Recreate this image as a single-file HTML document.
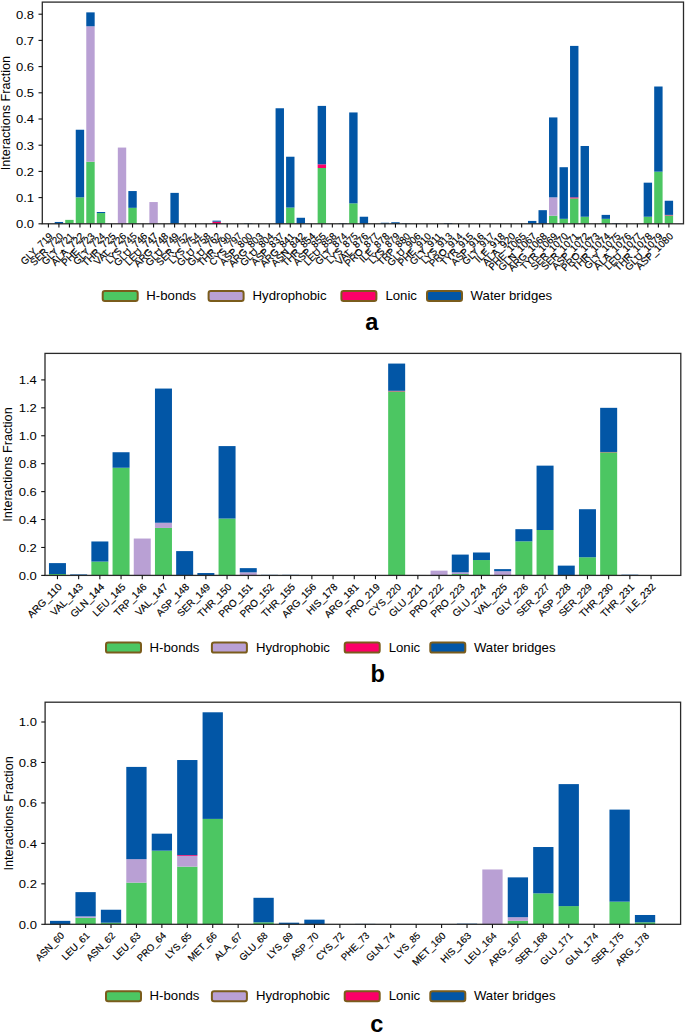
<!DOCTYPE html>
<html><head><meta charset="utf-8"><style>
html,body{margin:0;padding:0;background:#fff;}
body{width:685px;height:1034px;overflow:hidden;}
svg{display:block;font-family:"Liberation Sans",sans-serif;}
</style></head><body>
<svg width="685" height="1034" viewBox="0 0 685 1034" fill="#000">
<rect x="54.72" y="221.97" width="8.40" height="1.83" fill="#0256a6"/>
<rect x="65.23" y="219.87" width="8.40" height="3.93" fill="#4cc662"/>
<rect x="75.75" y="197.34" width="8.40" height="26.46" fill="#4cc662"/>
<rect x="75.75" y="129.74" width="8.40" height="67.60" fill="#0256a6"/>
<rect x="86.27" y="161.71" width="8.40" height="62.09" fill="#4cc662"/>
<rect x="86.27" y="26.25" width="8.40" height="135.45" fill="#b9a0d4"/>
<rect x="86.27" y="12.37" width="8.40" height="13.89" fill="#0256a6"/>
<rect x="96.78" y="213.06" width="8.40" height="10.74" fill="#4cc662"/>
<rect x="96.78" y="212.01" width="8.40" height="1.05" fill="#0256a6"/>
<rect x="117.82" y="147.56" width="8.40" height="76.24" fill="#b9a0d4"/>
<rect x="128.34" y="207.82" width="8.40" height="15.98" fill="#4cc662"/>
<rect x="128.34" y="191.05" width="8.40" height="16.77" fill="#0256a6"/>
<rect x="149.37" y="202.05" width="8.40" height="21.75" fill="#b9a0d4"/>
<rect x="170.40" y="192.88" width="8.40" height="30.92" fill="#0256a6"/>
<rect x="212.47" y="221.70" width="8.40" height="2.10" fill="#fc0068"/>
<rect x="212.47" y="220.66" width="8.40" height="1.05" fill="#0256a6"/>
<rect x="244.02" y="223.28" width="8.40" height="0.52" fill="#0256a6"/>
<rect x="275.57" y="108.26" width="8.40" height="115.54" fill="#0256a6"/>
<rect x="286.09" y="207.56" width="8.40" height="16.24" fill="#4cc662"/>
<rect x="286.09" y="156.73" width="8.40" height="50.83" fill="#0256a6"/>
<rect x="296.61" y="217.77" width="8.40" height="6.03" fill="#0256a6"/>
<rect x="317.64" y="167.99" width="8.40" height="55.81" fill="#4cc662"/>
<rect x="317.64" y="164.33" width="8.40" height="3.67" fill="#fc0068"/>
<rect x="317.64" y="105.90" width="8.40" height="58.43" fill="#0256a6"/>
<rect x="338.68" y="223.28" width="8.40" height="0.52" fill="#0256a6"/>
<rect x="349.19" y="203.36" width="8.40" height="20.44" fill="#4cc662"/>
<rect x="349.19" y="112.45" width="8.40" height="90.91" fill="#0256a6"/>
<rect x="359.71" y="216.73" width="8.40" height="7.07" fill="#0256a6"/>
<rect x="380.74" y="222.75" width="8.40" height="1.05" fill="#0256a6"/>
<rect x="391.26" y="222.23" width="8.40" height="1.57" fill="#0256a6"/>
<rect x="401.78" y="223.28" width="8.40" height="0.52" fill="#0256a6"/>
<rect x="443.85" y="223.01" width="8.40" height="0.79" fill="#0256a6"/>
<rect x="527.98" y="220.92" width="8.40" height="2.88" fill="#0256a6"/>
<rect x="538.50" y="210.18" width="8.40" height="13.62" fill="#0256a6"/>
<rect x="549.02" y="215.68" width="8.40" height="8.12" fill="#4cc662"/>
<rect x="549.02" y="197.34" width="8.40" height="18.34" fill="#b9a0d4"/>
<rect x="549.02" y="117.43" width="8.40" height="79.91" fill="#0256a6"/>
<rect x="559.53" y="218.82" width="8.40" height="4.98" fill="#4cc662"/>
<rect x="559.53" y="167.21" width="8.40" height="51.61" fill="#0256a6"/>
<rect x="570.05" y="198.39" width="8.40" height="25.41" fill="#4cc662"/>
<rect x="570.05" y="197.34" width="8.40" height="1.05" fill="#fc0068"/>
<rect x="570.05" y="45.90" width="8.40" height="151.44" fill="#0256a6"/>
<rect x="580.57" y="216.73" width="8.40" height="7.07" fill="#4cc662"/>
<rect x="580.57" y="145.99" width="8.40" height="70.74" fill="#0256a6"/>
<rect x="601.60" y="218.82" width="8.40" height="4.98" fill="#4cc662"/>
<rect x="601.60" y="214.89" width="8.40" height="3.93" fill="#0256a6"/>
<rect x="612.12" y="223.28" width="8.40" height="0.52" fill="#0256a6"/>
<rect x="643.67" y="216.73" width="8.40" height="7.07" fill="#4cc662"/>
<rect x="643.67" y="182.67" width="8.40" height="34.06" fill="#0256a6"/>
<rect x="654.19" y="171.66" width="8.40" height="52.14" fill="#4cc662"/>
<rect x="654.19" y="86.51" width="8.40" height="85.15" fill="#0256a6"/>
<rect x="664.70" y="215.42" width="8.40" height="8.38" fill="#4cc662"/>
<rect x="664.70" y="214.89" width="8.40" height="0.52" fill="#fc0068"/>
<rect x="664.70" y="200.74" width="8.40" height="14.15" fill="#0256a6"/>
<rect x="42.30" y="2.10" width="641.20" height="221.70" fill="none" stroke="#2a2a2a" stroke-width="1.3"/>
<line x1="38.50" y1="223.80" x2="42.30" y2="223.80" stroke="#111" stroke-width="1.1"/>
<text x="34.10" y="228.10" text-anchor="end" font-size="11.8" textLength="18.13" lengthAdjust="spacingAndGlyphs">0.0</text>
<line x1="38.50" y1="197.60" x2="42.30" y2="197.60" stroke="#111" stroke-width="1.1"/>
<text x="34.10" y="201.90" text-anchor="end" font-size="11.8" textLength="18.13" lengthAdjust="spacingAndGlyphs">0.1</text>
<line x1="38.50" y1="171.40" x2="42.30" y2="171.40" stroke="#111" stroke-width="1.1"/>
<text x="34.10" y="175.70" text-anchor="end" font-size="11.8" textLength="18.13" lengthAdjust="spacingAndGlyphs">0.2</text>
<line x1="38.50" y1="145.20" x2="42.30" y2="145.20" stroke="#111" stroke-width="1.1"/>
<text x="34.10" y="149.50" text-anchor="end" font-size="11.8" textLength="18.13" lengthAdjust="spacingAndGlyphs">0.3</text>
<line x1="38.50" y1="119.00" x2="42.30" y2="119.00" stroke="#111" stroke-width="1.1"/>
<text x="34.10" y="123.30" text-anchor="end" font-size="11.8" textLength="18.13" lengthAdjust="spacingAndGlyphs">0.4</text>
<line x1="38.50" y1="92.80" x2="42.30" y2="92.80" stroke="#111" stroke-width="1.1"/>
<text x="34.10" y="97.10" text-anchor="end" font-size="11.8" textLength="18.13" lengthAdjust="spacingAndGlyphs">0.5</text>
<line x1="38.50" y1="66.60" x2="42.30" y2="66.60" stroke="#111" stroke-width="1.1"/>
<text x="34.10" y="70.90" text-anchor="end" font-size="11.8" textLength="18.13" lengthAdjust="spacingAndGlyphs">0.6</text>
<line x1="38.50" y1="40.40" x2="42.30" y2="40.40" stroke="#111" stroke-width="1.1"/>
<text x="34.10" y="44.70" text-anchor="end" font-size="11.8" textLength="18.13" lengthAdjust="spacingAndGlyphs">0.7</text>
<line x1="38.50" y1="14.20" x2="42.30" y2="14.20" stroke="#111" stroke-width="1.1"/>
<text x="34.10" y="18.50" text-anchor="end" font-size="11.8" textLength="18.13" lengthAdjust="spacingAndGlyphs">0.8</text>
<line x1="48.40" y1="223.80" x2="48.40" y2="227.60" stroke="#111" stroke-width="1.1"/>
<text transform="translate(53.30,236.80) rotate(-45)" text-anchor="end" font-size="10.0" textLength="40.50" lengthAdjust="spacingAndGlyphs" stroke="#000" stroke-width="0.15">GLY_719</text>
<line x1="58.92" y1="223.80" x2="58.92" y2="227.60" stroke="#111" stroke-width="1.1"/>
<text transform="translate(63.82,236.80) rotate(-45)" text-anchor="end" font-size="10.0" textLength="41.95" lengthAdjust="spacingAndGlyphs" stroke="#000" stroke-width="0.15">SER_720</text>
<line x1="69.43" y1="223.80" x2="69.43" y2="227.60" stroke="#111" stroke-width="1.1"/>
<text transform="translate(74.33,236.80) rotate(-45)" text-anchor="end" font-size="10.0" textLength="40.50" lengthAdjust="spacingAndGlyphs" stroke="#000" stroke-width="0.15">GLY_721</text>
<line x1="79.95" y1="223.80" x2="79.95" y2="227.60" stroke="#111" stroke-width="1.1"/>
<text transform="translate(84.85,236.80) rotate(-45)" text-anchor="end" font-size="10.0" textLength="41.83" lengthAdjust="spacingAndGlyphs" stroke="#000" stroke-width="0.15">ALA_722</text>
<line x1="90.47" y1="223.80" x2="90.47" y2="227.60" stroke="#111" stroke-width="1.1"/>
<text transform="translate(95.37,236.80) rotate(-45)" text-anchor="end" font-size="10.0" textLength="42.20" lengthAdjust="spacingAndGlyphs" stroke="#000" stroke-width="0.15">PHE_723</text>
<line x1="100.98" y1="223.80" x2="100.98" y2="227.60" stroke="#111" stroke-width="1.1"/>
<text transform="translate(105.88,236.80) rotate(-45)" text-anchor="end" font-size="10.0" textLength="40.50" lengthAdjust="spacingAndGlyphs" stroke="#000" stroke-width="0.15">GLY_724</text>
<line x1="111.50" y1="223.80" x2="111.50" y2="227.60" stroke="#111" stroke-width="1.1"/>
<text transform="translate(116.40,236.80) rotate(-45)" text-anchor="end" font-size="10.0" textLength="42.88" lengthAdjust="spacingAndGlyphs" stroke="#000" stroke-width="0.15">THR_725</text>
<line x1="122.02" y1="223.80" x2="122.02" y2="227.60" stroke="#111" stroke-width="1.1"/>
<text transform="translate(126.92,236.80) rotate(-45)" text-anchor="end" font-size="10.0" textLength="40.99" lengthAdjust="spacingAndGlyphs" stroke="#000" stroke-width="0.15">VAL_726</text>
<line x1="132.54" y1="223.80" x2="132.54" y2="227.60" stroke="#111" stroke-width="1.1"/>
<text transform="translate(137.44,236.80) rotate(-45)" text-anchor="end" font-size="10.0" textLength="39.16" lengthAdjust="spacingAndGlyphs" stroke="#000" stroke-width="0.15">LYS_745</text>
<line x1="143.05" y1="223.80" x2="143.05" y2="227.60" stroke="#111" stroke-width="1.1"/>
<text transform="translate(147.95,236.80) rotate(-45)" text-anchor="end" font-size="10.0" textLength="42.46" lengthAdjust="spacingAndGlyphs" stroke="#000" stroke-width="0.15">GLU_746</text>
<line x1="153.57" y1="223.80" x2="153.57" y2="227.60" stroke="#111" stroke-width="1.1"/>
<text transform="translate(158.47,236.80) rotate(-45)" text-anchor="end" font-size="10.0" textLength="41.56" lengthAdjust="spacingAndGlyphs" stroke="#000" stroke-width="0.15">LEU_747</text>
<line x1="164.09" y1="223.80" x2="164.09" y2="227.60" stroke="#111" stroke-width="1.1"/>
<text transform="translate(168.99,236.80) rotate(-45)" text-anchor="end" font-size="10.0" textLength="43.80" lengthAdjust="spacingAndGlyphs" stroke="#000" stroke-width="0.15">ARG_748</text>
<line x1="174.60" y1="223.80" x2="174.60" y2="227.60" stroke="#111" stroke-width="1.1"/>
<text transform="translate(179.50,236.80) rotate(-45)" text-anchor="end" font-size="10.0" textLength="42.46" lengthAdjust="spacingAndGlyphs" stroke="#000" stroke-width="0.15">GLU_749</text>
<line x1="185.12" y1="223.80" x2="185.12" y2="227.60" stroke="#111" stroke-width="1.1"/>
<text transform="translate(190.02,236.80) rotate(-45)" text-anchor="end" font-size="10.0" textLength="41.95" lengthAdjust="spacingAndGlyphs" stroke="#000" stroke-width="0.15">SER_752</text>
<line x1="195.64" y1="223.80" x2="195.64" y2="227.60" stroke="#111" stroke-width="1.1"/>
<text transform="translate(200.54,236.80) rotate(-45)" text-anchor="end" font-size="10.0" textLength="39.16" lengthAdjust="spacingAndGlyphs" stroke="#000" stroke-width="0.15">LYS_754</text>
<line x1="206.16" y1="223.80" x2="206.16" y2="227.60" stroke="#111" stroke-width="1.1"/>
<text transform="translate(211.06,236.80) rotate(-45)" text-anchor="end" font-size="10.0" textLength="42.46" lengthAdjust="spacingAndGlyphs" stroke="#000" stroke-width="0.15">GLU_758</text>
<line x1="216.67" y1="223.80" x2="216.67" y2="227.60" stroke="#111" stroke-width="1.1"/>
<text transform="translate(221.57,236.80) rotate(-45)" text-anchor="end" font-size="10.0" textLength="42.46" lengthAdjust="spacingAndGlyphs" stroke="#000" stroke-width="0.15">GLU_762</text>
<line x1="227.19" y1="223.80" x2="227.19" y2="227.60" stroke="#111" stroke-width="1.1"/>
<text transform="translate(232.09,236.80) rotate(-45)" text-anchor="end" font-size="10.0" textLength="42.88" lengthAdjust="spacingAndGlyphs" stroke="#000" stroke-width="0.15">THR_790</text>
<line x1="237.71" y1="223.80" x2="237.71" y2="227.60" stroke="#111" stroke-width="1.1"/>
<text transform="translate(242.61,236.80) rotate(-45)" text-anchor="end" font-size="10.0" textLength="41.62" lengthAdjust="spacingAndGlyphs" stroke="#000" stroke-width="0.15">CYS_797</text>
<line x1="248.22" y1="223.80" x2="248.22" y2="227.60" stroke="#111" stroke-width="1.1"/>
<text transform="translate(253.12,236.80) rotate(-45)" text-anchor="end" font-size="10.0" textLength="41.57" lengthAdjust="spacingAndGlyphs" stroke="#000" stroke-width="0.15">ASP_800</text>
<line x1="258.74" y1="223.80" x2="258.74" y2="227.60" stroke="#111" stroke-width="1.1"/>
<text transform="translate(263.64,236.80) rotate(-45)" text-anchor="end" font-size="10.0" textLength="43.80" lengthAdjust="spacingAndGlyphs" stroke="#000" stroke-width="0.15">ARG_803</text>
<line x1="269.26" y1="223.80" x2="269.26" y2="227.60" stroke="#111" stroke-width="1.1"/>
<text transform="translate(274.16,236.80) rotate(-45)" text-anchor="end" font-size="10.0" textLength="42.46" lengthAdjust="spacingAndGlyphs" stroke="#000" stroke-width="0.15">GLU_804</text>
<line x1="279.77" y1="223.80" x2="279.77" y2="227.60" stroke="#111" stroke-width="1.1"/>
<text transform="translate(284.67,236.80) rotate(-45)" text-anchor="end" font-size="10.0" textLength="41.57" lengthAdjust="spacingAndGlyphs" stroke="#000" stroke-width="0.15">ASP_837</text>
<line x1="290.29" y1="223.80" x2="290.29" y2="227.60" stroke="#111" stroke-width="1.1"/>
<text transform="translate(295.19,236.80) rotate(-45)" text-anchor="end" font-size="10.0" textLength="43.80" lengthAdjust="spacingAndGlyphs" stroke="#000" stroke-width="0.15">ARG_841</text>
<line x1="300.81" y1="223.80" x2="300.81" y2="227.60" stroke="#111" stroke-width="1.1"/>
<text transform="translate(305.71,236.80) rotate(-45)" text-anchor="end" font-size="10.0" textLength="42.97" lengthAdjust="spacingAndGlyphs" stroke="#000" stroke-width="0.15">ASN_842</text>
<line x1="311.32" y1="223.80" x2="311.32" y2="227.60" stroke="#111" stroke-width="1.1"/>
<text transform="translate(316.22,236.80) rotate(-45)" text-anchor="end" font-size="10.0" textLength="42.88" lengthAdjust="spacingAndGlyphs" stroke="#000" stroke-width="0.15">THR_854</text>
<line x1="321.84" y1="223.80" x2="321.84" y2="227.60" stroke="#111" stroke-width="1.1"/>
<text transform="translate(326.74,236.80) rotate(-45)" text-anchor="end" font-size="10.0" textLength="41.57" lengthAdjust="spacingAndGlyphs" stroke="#000" stroke-width="0.15">ASP_855</text>
<line x1="332.36" y1="223.80" x2="332.36" y2="227.60" stroke="#111" stroke-width="1.1"/>
<text transform="translate(337.26,236.80) rotate(-45)" text-anchor="end" font-size="10.0" textLength="41.56" lengthAdjust="spacingAndGlyphs" stroke="#000" stroke-width="0.15">LEU_858</text>
<line x1="342.88" y1="223.80" x2="342.88" y2="227.60" stroke="#111" stroke-width="1.1"/>
<text transform="translate(347.78,236.80) rotate(-45)" text-anchor="end" font-size="10.0" textLength="40.50" lengthAdjust="spacingAndGlyphs" stroke="#000" stroke-width="0.15">GLY_874</text>
<line x1="353.39" y1="223.80" x2="353.39" y2="227.60" stroke="#111" stroke-width="1.1"/>
<text transform="translate(358.29,236.80) rotate(-45)" text-anchor="end" font-size="10.0" textLength="39.16" lengthAdjust="spacingAndGlyphs" stroke="#000" stroke-width="0.15">LYS_875</text>
<line x1="363.91" y1="223.80" x2="363.91" y2="227.60" stroke="#111" stroke-width="1.1"/>
<text transform="translate(368.81,236.80) rotate(-45)" text-anchor="end" font-size="10.0" textLength="40.99" lengthAdjust="spacingAndGlyphs" stroke="#000" stroke-width="0.15">VAL_876</text>
<line x1="374.43" y1="223.80" x2="374.43" y2="227.60" stroke="#111" stroke-width="1.1"/>
<text transform="translate(379.33,236.80) rotate(-45)" text-anchor="end" font-size="10.0" textLength="43.14" lengthAdjust="spacingAndGlyphs" stroke="#000" stroke-width="0.15">PRO_877</text>
<line x1="384.94" y1="223.80" x2="384.94" y2="227.60" stroke="#111" stroke-width="1.1"/>
<text transform="translate(389.84,236.80) rotate(-45)" text-anchor="end" font-size="10.0" textLength="37.37" lengthAdjust="spacingAndGlyphs" stroke="#000" stroke-width="0.15">ILE_878</text>
<line x1="395.46" y1="223.80" x2="395.46" y2="227.60" stroke="#111" stroke-width="1.1"/>
<text transform="translate(400.36,236.80) rotate(-45)" text-anchor="end" font-size="10.0" textLength="39.16" lengthAdjust="spacingAndGlyphs" stroke="#000" stroke-width="0.15">LYS_879</text>
<line x1="405.98" y1="223.80" x2="405.98" y2="227.60" stroke="#111" stroke-width="1.1"/>
<text transform="translate(410.88,236.80) rotate(-45)" text-anchor="end" font-size="10.0" textLength="41.45" lengthAdjust="spacingAndGlyphs" stroke="#000" stroke-width="0.15">TRP_880</text>
<line x1="416.49" y1="223.80" x2="416.49" y2="227.60" stroke="#111" stroke-width="1.1"/>
<text transform="translate(421.39,236.80) rotate(-45)" text-anchor="end" font-size="10.0" textLength="42.46" lengthAdjust="spacingAndGlyphs" stroke="#000" stroke-width="0.15">GLU_906</text>
<line x1="427.01" y1="223.80" x2="427.01" y2="227.60" stroke="#111" stroke-width="1.1"/>
<text transform="translate(431.91,236.80) rotate(-45)" text-anchor="end" font-size="10.0" textLength="42.20" lengthAdjust="spacingAndGlyphs" stroke="#000" stroke-width="0.15">PHE_910</text>
<line x1="437.53" y1="223.80" x2="437.53" y2="227.60" stroke="#111" stroke-width="1.1"/>
<text transform="translate(442.43,236.80) rotate(-45)" text-anchor="end" font-size="10.0" textLength="40.50" lengthAdjust="spacingAndGlyphs" stroke="#000" stroke-width="0.15">GLY_911</text>
<line x1="448.05" y1="223.80" x2="448.05" y2="227.60" stroke="#111" stroke-width="1.1"/>
<text transform="translate(452.95,236.80) rotate(-45)" text-anchor="end" font-size="10.0" textLength="39.16" lengthAdjust="spacingAndGlyphs" stroke="#000" stroke-width="0.15">LYS_913</text>
<line x1="458.56" y1="223.80" x2="458.56" y2="227.60" stroke="#111" stroke-width="1.1"/>
<text transform="translate(463.46,236.80) rotate(-45)" text-anchor="end" font-size="10.0" textLength="43.14" lengthAdjust="spacingAndGlyphs" stroke="#000" stroke-width="0.15">PRO_914</text>
<line x1="469.08" y1="223.80" x2="469.08" y2="227.60" stroke="#111" stroke-width="1.1"/>
<text transform="translate(473.98,236.80) rotate(-45)" text-anchor="end" font-size="10.0" textLength="41.52" lengthAdjust="spacingAndGlyphs" stroke="#000" stroke-width="0.15">TYR_915</text>
<line x1="479.60" y1="223.80" x2="479.60" y2="227.60" stroke="#111" stroke-width="1.1"/>
<text transform="translate(484.50,236.80) rotate(-45)" text-anchor="end" font-size="10.0" textLength="41.57" lengthAdjust="spacingAndGlyphs" stroke="#000" stroke-width="0.15">ASP_916</text>
<line x1="490.11" y1="223.80" x2="490.11" y2="227.60" stroke="#111" stroke-width="1.1"/>
<text transform="translate(495.01,236.80) rotate(-45)" text-anchor="end" font-size="10.0" textLength="40.50" lengthAdjust="spacingAndGlyphs" stroke="#000" stroke-width="0.15">GLY_917</text>
<line x1="500.63" y1="223.80" x2="500.63" y2="227.60" stroke="#111" stroke-width="1.1"/>
<text transform="translate(505.53,236.80) rotate(-45)" text-anchor="end" font-size="10.0" textLength="37.37" lengthAdjust="spacingAndGlyphs" stroke="#000" stroke-width="0.15">ILE_918</text>
<line x1="511.15" y1="223.80" x2="511.15" y2="227.60" stroke="#111" stroke-width="1.1"/>
<text transform="translate(516.05,236.80) rotate(-45)" text-anchor="end" font-size="10.0" textLength="41.83" lengthAdjust="spacingAndGlyphs" stroke="#000" stroke-width="0.15">ALA_920</text>
<line x1="521.66" y1="223.80" x2="521.66" y2="227.60" stroke="#111" stroke-width="1.1"/>
<text transform="translate(526.56,236.80) rotate(-45)" text-anchor="end" font-size="10.0" textLength="48.31" lengthAdjust="spacingAndGlyphs" stroke="#000" stroke-width="0.15">PHE_1065</text>
<line x1="532.18" y1="223.80" x2="532.18" y2="227.60" stroke="#111" stroke-width="1.1"/>
<text transform="translate(537.08,236.80) rotate(-45)" text-anchor="end" font-size="10.0" textLength="49.20" lengthAdjust="spacingAndGlyphs" stroke="#000" stroke-width="0.15">GLN_1067</text>
<line x1="542.70" y1="223.80" x2="542.70" y2="227.60" stroke="#111" stroke-width="1.1"/>
<text transform="translate(547.60,236.80) rotate(-45)" text-anchor="end" font-size="10.0" textLength="49.91" lengthAdjust="spacingAndGlyphs" stroke="#000" stroke-width="0.15">ARG_1068</text>
<line x1="553.22" y1="223.80" x2="553.22" y2="227.60" stroke="#111" stroke-width="1.1"/>
<text transform="translate(558.12,236.80) rotate(-45)" text-anchor="end" font-size="10.0" textLength="47.63" lengthAdjust="spacingAndGlyphs" stroke="#000" stroke-width="0.15">TYR_1069</text>
<line x1="563.73" y1="223.80" x2="563.73" y2="227.60" stroke="#111" stroke-width="1.1"/>
<text transform="translate(568.63,236.80) rotate(-45)" text-anchor="end" font-size="10.0" textLength="48.06" lengthAdjust="spacingAndGlyphs" stroke="#000" stroke-width="0.15">SER_1070</text>
<line x1="574.25" y1="223.80" x2="574.25" y2="227.60" stroke="#111" stroke-width="1.1"/>
<text transform="translate(579.15,236.80) rotate(-45)" text-anchor="end" font-size="10.0" textLength="48.06" lengthAdjust="spacingAndGlyphs" stroke="#000" stroke-width="0.15">SER_1071</text>
<line x1="584.77" y1="223.80" x2="584.77" y2="227.60" stroke="#111" stroke-width="1.1"/>
<text transform="translate(589.67,236.80) rotate(-45)" text-anchor="end" font-size="10.0" textLength="47.68" lengthAdjust="spacingAndGlyphs" stroke="#000" stroke-width="0.15">ASP_1072</text>
<line x1="595.28" y1="223.80" x2="595.28" y2="227.60" stroke="#111" stroke-width="1.1"/>
<text transform="translate(600.18,236.80) rotate(-45)" text-anchor="end" font-size="10.0" textLength="49.25" lengthAdjust="spacingAndGlyphs" stroke="#000" stroke-width="0.15">PRO_1073</text>
<line x1="605.80" y1="223.80" x2="605.80" y2="227.60" stroke="#111" stroke-width="1.1"/>
<text transform="translate(610.70,236.80) rotate(-45)" text-anchor="end" font-size="10.0" textLength="48.99" lengthAdjust="spacingAndGlyphs" stroke="#000" stroke-width="0.15">THR_1074</text>
<line x1="616.32" y1="223.80" x2="616.32" y2="227.60" stroke="#111" stroke-width="1.1"/>
<text transform="translate(621.22,236.80) rotate(-45)" text-anchor="end" font-size="10.0" textLength="46.61" lengthAdjust="spacingAndGlyphs" stroke="#000" stroke-width="0.15">GLY_1075</text>
<line x1="626.83" y1="223.80" x2="626.83" y2="227.60" stroke="#111" stroke-width="1.1"/>
<text transform="translate(631.73,236.80) rotate(-45)" text-anchor="end" font-size="10.0" textLength="47.94" lengthAdjust="spacingAndGlyphs" stroke="#000" stroke-width="0.15">ALA_1076</text>
<line x1="637.35" y1="223.80" x2="637.35" y2="227.60" stroke="#111" stroke-width="1.1"/>
<text transform="translate(642.25,236.80) rotate(-45)" text-anchor="end" font-size="10.0" textLength="47.67" lengthAdjust="spacingAndGlyphs" stroke="#000" stroke-width="0.15">LEU_1077</text>
<line x1="647.87" y1="223.80" x2="647.87" y2="227.60" stroke="#111" stroke-width="1.1"/>
<text transform="translate(652.77,236.80) rotate(-45)" text-anchor="end" font-size="10.0" textLength="48.99" lengthAdjust="spacingAndGlyphs" stroke="#000" stroke-width="0.15">THR_1078</text>
<line x1="658.39" y1="223.80" x2="658.39" y2="227.60" stroke="#111" stroke-width="1.1"/>
<text transform="translate(663.29,236.80) rotate(-45)" text-anchor="end" font-size="10.0" textLength="48.57" lengthAdjust="spacingAndGlyphs" stroke="#000" stroke-width="0.15">GLU_1079</text>
<line x1="668.90" y1="223.80" x2="668.90" y2="227.60" stroke="#111" stroke-width="1.1"/>
<text transform="translate(673.80,236.80) rotate(-45)" text-anchor="end" font-size="10.0" textLength="47.68" lengthAdjust="spacingAndGlyphs" stroke="#000" stroke-width="0.15">ASP_1080</text>
<text transform="translate(9.9,113.10) rotate(-90)" text-anchor="middle" font-size="12.6" textLength="114.3" lengthAdjust="spacingAndGlyphs">Interactions Fraction</text>
<rect x="102.70" y="291.00" width="35.00" height="10.0" rx="2.2" fill="#4cc662" stroke="#7a5c1c" stroke-width="2"/>
<text x="146.30" y="300.20" font-size="13.2">H-bonds</text>
<rect x="208.60" y="291.00" width="35.00" height="10.0" rx="2.2" fill="#b9a0d4" stroke="#7a5c1c" stroke-width="2"/>
<text x="252.60" y="300.20" font-size="13.2">Hydrophobic</text>
<rect x="341.40" y="291.00" width="35.00" height="10.0" rx="2.2" fill="#fc0068" stroke="#7a5c1c" stroke-width="2"/>
<text x="385.40" y="300.20" font-size="13.2">Lonic</text>
<rect x="427.00" y="291.00" width="35.00" height="10.0" rx="2.2" fill="#0256a6" stroke="#7a5c1c" stroke-width="2"/>
<text x="470.60" y="300.20" font-size="13.2">Water bridges</text>
<text x="365.20" y="330.40" font-size="23.6" font-weight="bold">a</text>
<rect x="48.96" y="574.00" width="17.00" height="1.40" fill="#4cc662"/>
<rect x="48.96" y="563.11" width="17.00" height="10.89" fill="#0256a6"/>
<rect x="70.16" y="574.42" width="17.00" height="0.98" fill="#0256a6"/>
<rect x="91.36" y="561.58" width="17.00" height="13.82" fill="#4cc662"/>
<rect x="91.36" y="541.47" width="17.00" height="20.11" fill="#0256a6"/>
<rect x="112.56" y="467.74" width="17.00" height="107.66" fill="#4cc662"/>
<rect x="112.56" y="452.24" width="17.00" height="15.50" fill="#0256a6"/>
<rect x="133.76" y="538.54" width="17.00" height="36.86" fill="#b9a0d4"/>
<rect x="154.96" y="527.92" width="17.00" height="47.48" fill="#4cc662"/>
<rect x="154.96" y="522.76" width="17.00" height="5.17" fill="#b9a0d4"/>
<rect x="154.96" y="388.56" width="17.00" height="134.19" fill="#0256a6"/>
<rect x="176.16" y="551.10" width="17.00" height="24.30" fill="#0256a6"/>
<rect x="197.36" y="573.03" width="17.00" height="2.37" fill="#0256a6"/>
<rect x="218.56" y="518.57" width="17.00" height="56.83" fill="#4cc662"/>
<rect x="218.56" y="446.09" width="17.00" height="72.47" fill="#0256a6"/>
<rect x="239.76" y="572.33" width="17.00" height="3.07" fill="#b9a0d4"/>
<rect x="239.76" y="568.14" width="17.00" height="4.19" fill="#0256a6"/>
<rect x="260.96" y="574.84" width="17.00" height="0.56" fill="#0256a6"/>
<rect x="282.16" y="574.84" width="17.00" height="0.56" fill="#0256a6"/>
<rect x="388.16" y="391.35" width="17.00" height="184.05" fill="#4cc662"/>
<rect x="388.16" y="390.80" width="17.00" height="0.56" fill="#fc0068"/>
<rect x="388.16" y="363.57" width="17.00" height="27.23" fill="#0256a6"/>
<rect x="409.36" y="574.98" width="17.00" height="0.42" fill="#0256a6"/>
<rect x="430.56" y="570.65" width="17.00" height="4.75" fill="#b9a0d4"/>
<rect x="451.76" y="574.00" width="17.00" height="1.40" fill="#4cc662"/>
<rect x="451.76" y="572.33" width="17.00" height="1.68" fill="#b9a0d4"/>
<rect x="451.76" y="554.59" width="17.00" height="17.73" fill="#0256a6"/>
<rect x="472.96" y="560.04" width="17.00" height="15.36" fill="#4cc662"/>
<rect x="472.96" y="552.50" width="17.00" height="7.54" fill="#0256a6"/>
<rect x="494.16" y="571.21" width="17.00" height="4.19" fill="#b9a0d4"/>
<rect x="494.16" y="569.12" width="17.00" height="2.09" fill="#0256a6"/>
<rect x="515.36" y="541.33" width="17.00" height="34.07" fill="#4cc662"/>
<rect x="515.36" y="529.18" width="17.00" height="12.15" fill="#0256a6"/>
<rect x="536.56" y="530.02" width="17.00" height="45.38" fill="#4cc662"/>
<rect x="536.56" y="465.64" width="17.00" height="64.37" fill="#0256a6"/>
<rect x="557.76" y="565.63" width="17.00" height="9.77" fill="#0256a6"/>
<rect x="578.96" y="557.25" width="17.00" height="18.15" fill="#4cc662"/>
<rect x="578.96" y="509.21" width="17.00" height="48.04" fill="#0256a6"/>
<rect x="600.16" y="452.24" width="17.00" height="123.16" fill="#4cc662"/>
<rect x="600.16" y="451.96" width="17.00" height="0.28" fill="#fc0068"/>
<rect x="600.16" y="407.83" width="17.00" height="44.13" fill="#0256a6"/>
<rect x="621.36" y="574.70" width="17.00" height="0.70" fill="#0256a6"/>
<rect x="45.00" y="353.40" width="635.80" height="222.00" fill="none" stroke="#2a2a2a" stroke-width="1.3"/>
<line x1="41.20" y1="575.40" x2="45.00" y2="575.40" stroke="#111" stroke-width="1.1"/>
<text x="36.80" y="579.70" text-anchor="end" font-size="11.8" textLength="18.13" lengthAdjust="spacingAndGlyphs">0.0</text>
<line x1="41.20" y1="547.47" x2="45.00" y2="547.47" stroke="#111" stroke-width="1.1"/>
<text x="36.80" y="551.77" text-anchor="end" font-size="11.8" textLength="18.13" lengthAdjust="spacingAndGlyphs">0.2</text>
<line x1="41.20" y1="519.54" x2="45.00" y2="519.54" stroke="#111" stroke-width="1.1"/>
<text x="36.80" y="523.84" text-anchor="end" font-size="11.8" textLength="18.13" lengthAdjust="spacingAndGlyphs">0.4</text>
<line x1="41.20" y1="491.62" x2="45.00" y2="491.62" stroke="#111" stroke-width="1.1"/>
<text x="36.80" y="495.92" text-anchor="end" font-size="11.8" textLength="18.13" lengthAdjust="spacingAndGlyphs">0.6</text>
<line x1="41.20" y1="463.69" x2="45.00" y2="463.69" stroke="#111" stroke-width="1.1"/>
<text x="36.80" y="467.99" text-anchor="end" font-size="11.8" textLength="18.13" lengthAdjust="spacingAndGlyphs">0.8</text>
<line x1="41.20" y1="435.76" x2="45.00" y2="435.76" stroke="#111" stroke-width="1.1"/>
<text x="36.80" y="440.06" text-anchor="end" font-size="11.8" textLength="18.13" lengthAdjust="spacingAndGlyphs">1.0</text>
<line x1="41.20" y1="407.83" x2="45.00" y2="407.83" stroke="#111" stroke-width="1.1"/>
<text x="36.80" y="412.13" text-anchor="end" font-size="11.8" textLength="18.13" lengthAdjust="spacingAndGlyphs">1.2</text>
<line x1="41.20" y1="379.90" x2="45.00" y2="379.90" stroke="#111" stroke-width="1.1"/>
<text x="36.80" y="384.20" text-anchor="end" font-size="11.8" textLength="18.13" lengthAdjust="spacingAndGlyphs">1.4</text>
<line x1="57.46" y1="575.40" x2="57.46" y2="579.20" stroke="#111" stroke-width="1.1"/>
<text transform="translate(62.56,587.60) rotate(-45)" text-anchor="end" font-size="10.0" textLength="43.80" lengthAdjust="spacingAndGlyphs" stroke="#000" stroke-width="0.15">ARG_110</text>
<line x1="78.66" y1="575.40" x2="78.66" y2="579.20" stroke="#111" stroke-width="1.1"/>
<text transform="translate(83.76,587.60) rotate(-45)" text-anchor="end" font-size="10.0" textLength="40.99" lengthAdjust="spacingAndGlyphs" stroke="#000" stroke-width="0.15">VAL_143</text>
<line x1="99.86" y1="575.40" x2="99.86" y2="579.20" stroke="#111" stroke-width="1.1"/>
<text transform="translate(104.96,587.60) rotate(-45)" text-anchor="end" font-size="10.0" textLength="43.09" lengthAdjust="spacingAndGlyphs" stroke="#000" stroke-width="0.15">GLN_144</text>
<line x1="121.06" y1="575.40" x2="121.06" y2="579.20" stroke="#111" stroke-width="1.1"/>
<text transform="translate(126.16,587.60) rotate(-45)" text-anchor="end" font-size="10.0" textLength="41.56" lengthAdjust="spacingAndGlyphs" stroke="#000" stroke-width="0.15">LEU_145</text>
<line x1="142.26" y1="575.40" x2="142.26" y2="579.20" stroke="#111" stroke-width="1.1"/>
<text transform="translate(147.36,587.60) rotate(-45)" text-anchor="end" font-size="10.0" textLength="41.45" lengthAdjust="spacingAndGlyphs" stroke="#000" stroke-width="0.15">TRP_146</text>
<line x1="163.46" y1="575.40" x2="163.46" y2="579.20" stroke="#111" stroke-width="1.1"/>
<text transform="translate(168.56,587.60) rotate(-45)" text-anchor="end" font-size="10.0" textLength="40.99" lengthAdjust="spacingAndGlyphs" stroke="#000" stroke-width="0.15">VAL_147</text>
<line x1="184.66" y1="575.40" x2="184.66" y2="579.20" stroke="#111" stroke-width="1.1"/>
<text transform="translate(189.76,587.60) rotate(-45)" text-anchor="end" font-size="10.0" textLength="41.57" lengthAdjust="spacingAndGlyphs" stroke="#000" stroke-width="0.15">ASP_148</text>
<line x1="205.86" y1="575.40" x2="205.86" y2="579.20" stroke="#111" stroke-width="1.1"/>
<text transform="translate(210.96,587.60) rotate(-45)" text-anchor="end" font-size="10.0" textLength="41.95" lengthAdjust="spacingAndGlyphs" stroke="#000" stroke-width="0.15">SER_149</text>
<line x1="227.06" y1="575.40" x2="227.06" y2="579.20" stroke="#111" stroke-width="1.1"/>
<text transform="translate(232.16,587.60) rotate(-45)" text-anchor="end" font-size="10.0" textLength="42.88" lengthAdjust="spacingAndGlyphs" stroke="#000" stroke-width="0.15">THR_150</text>
<line x1="248.26" y1="575.40" x2="248.26" y2="579.20" stroke="#111" stroke-width="1.1"/>
<text transform="translate(253.36,587.60) rotate(-45)" text-anchor="end" font-size="10.0" textLength="43.14" lengthAdjust="spacingAndGlyphs" stroke="#000" stroke-width="0.15">PRO_151</text>
<line x1="269.46" y1="575.40" x2="269.46" y2="579.20" stroke="#111" stroke-width="1.1"/>
<text transform="translate(274.56,587.60) rotate(-45)" text-anchor="end" font-size="10.0" textLength="43.14" lengthAdjust="spacingAndGlyphs" stroke="#000" stroke-width="0.15">PRO_152</text>
<line x1="290.66" y1="575.40" x2="290.66" y2="579.20" stroke="#111" stroke-width="1.1"/>
<text transform="translate(295.76,587.60) rotate(-45)" text-anchor="end" font-size="10.0" textLength="42.88" lengthAdjust="spacingAndGlyphs" stroke="#000" stroke-width="0.15">THR_155</text>
<line x1="311.86" y1="575.40" x2="311.86" y2="579.20" stroke="#111" stroke-width="1.1"/>
<text transform="translate(316.96,587.60) rotate(-45)" text-anchor="end" font-size="10.0" textLength="43.80" lengthAdjust="spacingAndGlyphs" stroke="#000" stroke-width="0.15">ARG_156</text>
<line x1="333.06" y1="575.40" x2="333.06" y2="579.20" stroke="#111" stroke-width="1.1"/>
<text transform="translate(338.16,587.60) rotate(-45)" text-anchor="end" font-size="10.0" textLength="39.27" lengthAdjust="spacingAndGlyphs" stroke="#000" stroke-width="0.15">HIS_178</text>
<line x1="354.26" y1="575.40" x2="354.26" y2="579.20" stroke="#111" stroke-width="1.1"/>
<text transform="translate(359.36,587.60) rotate(-45)" text-anchor="end" font-size="10.0" textLength="43.80" lengthAdjust="spacingAndGlyphs" stroke="#000" stroke-width="0.15">ARG_181</text>
<line x1="375.46" y1="575.40" x2="375.46" y2="579.20" stroke="#111" stroke-width="1.1"/>
<text transform="translate(380.56,587.60) rotate(-45)" text-anchor="end" font-size="10.0" textLength="43.14" lengthAdjust="spacingAndGlyphs" stroke="#000" stroke-width="0.15">PRO_219</text>
<line x1="396.66" y1="575.40" x2="396.66" y2="579.20" stroke="#111" stroke-width="1.1"/>
<text transform="translate(401.76,587.60) rotate(-45)" text-anchor="end" font-size="10.0" textLength="41.62" lengthAdjust="spacingAndGlyphs" stroke="#000" stroke-width="0.15">CYS_220</text>
<line x1="417.86" y1="575.40" x2="417.86" y2="579.20" stroke="#111" stroke-width="1.1"/>
<text transform="translate(422.96,587.60) rotate(-45)" text-anchor="end" font-size="10.0" textLength="42.46" lengthAdjust="spacingAndGlyphs" stroke="#000" stroke-width="0.15">GLU_221</text>
<line x1="439.06" y1="575.40" x2="439.06" y2="579.20" stroke="#111" stroke-width="1.1"/>
<text transform="translate(444.16,587.60) rotate(-45)" text-anchor="end" font-size="10.0" textLength="43.14" lengthAdjust="spacingAndGlyphs" stroke="#000" stroke-width="0.15">PRO_222</text>
<line x1="460.26" y1="575.40" x2="460.26" y2="579.20" stroke="#111" stroke-width="1.1"/>
<text transform="translate(465.36,587.60) rotate(-45)" text-anchor="end" font-size="10.0" textLength="43.14" lengthAdjust="spacingAndGlyphs" stroke="#000" stroke-width="0.15">PRO_223</text>
<line x1="481.46" y1="575.40" x2="481.46" y2="579.20" stroke="#111" stroke-width="1.1"/>
<text transform="translate(486.56,587.60) rotate(-45)" text-anchor="end" font-size="10.0" textLength="42.46" lengthAdjust="spacingAndGlyphs" stroke="#000" stroke-width="0.15">GLU_224</text>
<line x1="502.66" y1="575.40" x2="502.66" y2="579.20" stroke="#111" stroke-width="1.1"/>
<text transform="translate(507.76,587.60) rotate(-45)" text-anchor="end" font-size="10.0" textLength="40.99" lengthAdjust="spacingAndGlyphs" stroke="#000" stroke-width="0.15">VAL_225</text>
<line x1="523.86" y1="575.40" x2="523.86" y2="579.20" stroke="#111" stroke-width="1.1"/>
<text transform="translate(528.96,587.60) rotate(-45)" text-anchor="end" font-size="10.0" textLength="40.50" lengthAdjust="spacingAndGlyphs" stroke="#000" stroke-width="0.15">GLY_226</text>
<line x1="545.06" y1="575.40" x2="545.06" y2="579.20" stroke="#111" stroke-width="1.1"/>
<text transform="translate(550.16,587.60) rotate(-45)" text-anchor="end" font-size="10.0" textLength="41.95" lengthAdjust="spacingAndGlyphs" stroke="#000" stroke-width="0.15">SER_227</text>
<line x1="566.26" y1="575.40" x2="566.26" y2="579.20" stroke="#111" stroke-width="1.1"/>
<text transform="translate(571.36,587.60) rotate(-45)" text-anchor="end" font-size="10.0" textLength="41.57" lengthAdjust="spacingAndGlyphs" stroke="#000" stroke-width="0.15">ASP_228</text>
<line x1="587.46" y1="575.40" x2="587.46" y2="579.20" stroke="#111" stroke-width="1.1"/>
<text transform="translate(592.56,587.60) rotate(-45)" text-anchor="end" font-size="10.0" textLength="41.95" lengthAdjust="spacingAndGlyphs" stroke="#000" stroke-width="0.15">SER_229</text>
<line x1="608.66" y1="575.40" x2="608.66" y2="579.20" stroke="#111" stroke-width="1.1"/>
<text transform="translate(613.76,587.60) rotate(-45)" text-anchor="end" font-size="10.0" textLength="42.88" lengthAdjust="spacingAndGlyphs" stroke="#000" stroke-width="0.15">THR_230</text>
<line x1="629.86" y1="575.40" x2="629.86" y2="579.20" stroke="#111" stroke-width="1.1"/>
<text transform="translate(634.96,587.60) rotate(-45)" text-anchor="end" font-size="10.0" textLength="42.88" lengthAdjust="spacingAndGlyphs" stroke="#000" stroke-width="0.15">THR_231</text>
<line x1="651.06" y1="575.40" x2="651.06" y2="579.20" stroke="#111" stroke-width="1.1"/>
<text transform="translate(656.16,587.60) rotate(-45)" text-anchor="end" font-size="10.0" textLength="37.37" lengthAdjust="spacingAndGlyphs" stroke="#000" stroke-width="0.15">ILE_232</text>
<text transform="translate(12.1,464.50) rotate(-90)" text-anchor="middle" font-size="12.6" textLength="114.3" lengthAdjust="spacingAndGlyphs">Interactions Fraction</text>
<rect x="106.00" y="642.60" width="35.00" height="10.0" rx="2.2" fill="#4cc662" stroke="#7a5c1c" stroke-width="2"/>
<text x="149.60" y="651.80" font-size="13.2">H-bonds</text>
<rect x="211.90" y="642.60" width="35.00" height="10.0" rx="2.2" fill="#b9a0d4" stroke="#7a5c1c" stroke-width="2"/>
<text x="255.90" y="651.80" font-size="13.2">Hydrophobic</text>
<rect x="344.70" y="642.60" width="35.00" height="10.0" rx="2.2" fill="#fc0068" stroke="#7a5c1c" stroke-width="2"/>
<text x="388.70" y="651.80" font-size="13.2">Lonic</text>
<rect x="430.30" y="642.60" width="35.00" height="10.0" rx="2.2" fill="#0256a6" stroke="#7a5c1c" stroke-width="2"/>
<text x="473.90" y="651.80" font-size="13.2">Water bridges</text>
<text x="370.60" y="682.40" font-size="23.6" font-weight="bold">b</text>
<rect x="50.00" y="920.86" width="20.30" height="3.44" fill="#0256a6"/>
<rect x="75.43" y="917.83" width="20.30" height="6.47" fill="#4cc662"/>
<rect x="75.43" y="916.41" width="20.30" height="1.42" fill="#b9a0d4"/>
<rect x="75.43" y="892.13" width="20.30" height="24.28" fill="#0256a6"/>
<rect x="100.86" y="922.68" width="20.30" height="1.62" fill="#4cc662"/>
<rect x="100.86" y="909.73" width="20.30" height="12.95" fill="#0256a6"/>
<rect x="126.29" y="882.63" width="20.30" height="41.67" fill="#4cc662"/>
<rect x="126.29" y="859.16" width="20.30" height="23.47" fill="#b9a0d4"/>
<rect x="126.29" y="766.91" width="20.30" height="92.25" fill="#0256a6"/>
<rect x="151.72" y="850.66" width="20.30" height="73.64" fill="#4cc662"/>
<rect x="151.72" y="833.67" width="20.30" height="16.99" fill="#0256a6"/>
<rect x="177.15" y="866.64" width="20.30" height="57.66" fill="#4cc662"/>
<rect x="177.15" y="855.92" width="20.30" height="10.72" fill="#b9a0d4"/>
<rect x="177.15" y="855.11" width="20.30" height="0.81" fill="#fc0068"/>
<rect x="177.15" y="760.03" width="20.30" height="95.08" fill="#0256a6"/>
<rect x="202.58" y="818.90" width="20.30" height="105.40" fill="#4cc662"/>
<rect x="202.58" y="712.29" width="20.30" height="106.61" fill="#0256a6"/>
<rect x="253.44" y="922.28" width="20.30" height="2.02" fill="#4cc662"/>
<rect x="253.44" y="897.80" width="20.30" height="24.48" fill="#0256a6"/>
<rect x="278.87" y="922.68" width="20.30" height="1.62" fill="#0256a6"/>
<rect x="304.30" y="919.65" width="20.30" height="4.65" fill="#0256a6"/>
<rect x="355.16" y="923.90" width="20.30" height="0.40" fill="#0256a6"/>
<rect x="456.88" y="923.69" width="20.30" height="0.61" fill="#0256a6"/>
<rect x="482.31" y="869.48" width="20.30" height="54.82" fill="#b9a0d4"/>
<rect x="507.74" y="920.86" width="20.30" height="3.44" fill="#4cc662"/>
<rect x="507.74" y="917.22" width="20.30" height="3.64" fill="#b9a0d4"/>
<rect x="507.74" y="877.37" width="20.30" height="39.85" fill="#0256a6"/>
<rect x="533.17" y="893.35" width="20.30" height="30.95" fill="#4cc662"/>
<rect x="533.17" y="847.02" width="20.30" height="46.33" fill="#0256a6"/>
<rect x="558.60" y="906.09" width="20.30" height="18.21" fill="#4cc662"/>
<rect x="558.60" y="784.11" width="20.30" height="121.99" fill="#0256a6"/>
<rect x="609.46" y="901.64" width="20.30" height="22.66" fill="#4cc662"/>
<rect x="609.46" y="809.60" width="20.30" height="92.05" fill="#0256a6"/>
<rect x="634.89" y="922.28" width="20.30" height="2.02" fill="#4cc662"/>
<rect x="634.89" y="914.99" width="20.30" height="7.28" fill="#0256a6"/>
<rect x="45.10" y="702.20" width="635.50" height="222.10" fill="none" stroke="#2a2a2a" stroke-width="1.3"/>
<line x1="41.30" y1="924.30" x2="45.10" y2="924.30" stroke="#111" stroke-width="1.1"/>
<text x="36.90" y="928.60" text-anchor="end" font-size="11.8" textLength="18.13" lengthAdjust="spacingAndGlyphs">0.0</text>
<line x1="41.30" y1="883.84" x2="45.10" y2="883.84" stroke="#111" stroke-width="1.1"/>
<text x="36.90" y="888.14" text-anchor="end" font-size="11.8" textLength="18.13" lengthAdjust="spacingAndGlyphs">0.2</text>
<line x1="41.30" y1="843.38" x2="45.10" y2="843.38" stroke="#111" stroke-width="1.1"/>
<text x="36.90" y="847.68" text-anchor="end" font-size="11.8" textLength="18.13" lengthAdjust="spacingAndGlyphs">0.4</text>
<line x1="41.30" y1="802.92" x2="45.10" y2="802.92" stroke="#111" stroke-width="1.1"/>
<text x="36.90" y="807.22" text-anchor="end" font-size="11.8" textLength="18.13" lengthAdjust="spacingAndGlyphs">0.6</text>
<line x1="41.30" y1="762.46" x2="45.10" y2="762.46" stroke="#111" stroke-width="1.1"/>
<text x="36.90" y="766.76" text-anchor="end" font-size="11.8" textLength="18.13" lengthAdjust="spacingAndGlyphs">0.8</text>
<line x1="41.30" y1="722.00" x2="45.10" y2="722.00" stroke="#111" stroke-width="1.1"/>
<text x="36.90" y="726.30" text-anchor="end" font-size="11.8" textLength="18.13" lengthAdjust="spacingAndGlyphs">1.0</text>
<line x1="60.15" y1="924.30" x2="60.15" y2="928.10" stroke="#111" stroke-width="1.1"/>
<text transform="translate(64.90,936.30) rotate(-45)" text-anchor="end" font-size="9.8" textLength="36.09" lengthAdjust="spacingAndGlyphs" stroke="#000" stroke-width="0.15">ASN_60</text>
<line x1="85.58" y1="924.30" x2="85.58" y2="928.10" stroke="#111" stroke-width="1.1"/>
<text transform="translate(90.33,936.30) rotate(-45)" text-anchor="end" font-size="9.8" textLength="34.72" lengthAdjust="spacingAndGlyphs" stroke="#000" stroke-width="0.15">LEU_61</text>
<line x1="111.01" y1="924.30" x2="111.01" y2="928.10" stroke="#111" stroke-width="1.1"/>
<text transform="translate(115.76,936.30) rotate(-45)" text-anchor="end" font-size="9.8" textLength="36.09" lengthAdjust="spacingAndGlyphs" stroke="#000" stroke-width="0.15">ASN_62</text>
<line x1="136.44" y1="924.30" x2="136.44" y2="928.10" stroke="#111" stroke-width="1.1"/>
<text transform="translate(141.19,936.30) rotate(-45)" text-anchor="end" font-size="9.8" textLength="34.72" lengthAdjust="spacingAndGlyphs" stroke="#000" stroke-width="0.15">LEU_63</text>
<line x1="161.87" y1="924.30" x2="161.87" y2="928.10" stroke="#111" stroke-width="1.1"/>
<text transform="translate(166.62,936.30) rotate(-45)" text-anchor="end" font-size="9.8" textLength="36.26" lengthAdjust="spacingAndGlyphs" stroke="#000" stroke-width="0.15">PRO_64</text>
<line x1="187.30" y1="924.30" x2="187.30" y2="928.10" stroke="#111" stroke-width="1.1"/>
<text transform="translate(192.05,936.30) rotate(-45)" text-anchor="end" font-size="9.8" textLength="32.36" lengthAdjust="spacingAndGlyphs" stroke="#000" stroke-width="0.15">LYS_65</text>
<line x1="212.73" y1="924.30" x2="212.73" y2="928.10" stroke="#111" stroke-width="1.1"/>
<text transform="translate(217.48,936.30) rotate(-45)" text-anchor="end" font-size="9.8" textLength="36.45" lengthAdjust="spacingAndGlyphs" stroke="#000" stroke-width="0.15">MET_66</text>
<line x1="238.16" y1="924.30" x2="238.16" y2="928.10" stroke="#111" stroke-width="1.1"/>
<text transform="translate(242.91,936.30) rotate(-45)" text-anchor="end" font-size="9.8" textLength="34.98" lengthAdjust="spacingAndGlyphs" stroke="#000" stroke-width="0.15">ALA_67</text>
<line x1="263.59" y1="924.30" x2="263.59" y2="928.10" stroke="#111" stroke-width="1.1"/>
<text transform="translate(268.34,936.30) rotate(-45)" text-anchor="end" font-size="9.8" textLength="35.59" lengthAdjust="spacingAndGlyphs" stroke="#000" stroke-width="0.15">GLU_68</text>
<line x1="289.02" y1="924.30" x2="289.02" y2="928.10" stroke="#111" stroke-width="1.1"/>
<text transform="translate(293.77,936.30) rotate(-45)" text-anchor="end" font-size="9.8" textLength="32.36" lengthAdjust="spacingAndGlyphs" stroke="#000" stroke-width="0.15">LYS_69</text>
<line x1="314.45" y1="924.30" x2="314.45" y2="928.10" stroke="#111" stroke-width="1.1"/>
<text transform="translate(319.20,936.30) rotate(-45)" text-anchor="end" font-size="9.8" textLength="34.73" lengthAdjust="spacingAndGlyphs" stroke="#000" stroke-width="0.15">ASP_70</text>
<line x1="339.88" y1="924.30" x2="339.88" y2="928.10" stroke="#111" stroke-width="1.1"/>
<text transform="translate(344.63,936.30) rotate(-45)" text-anchor="end" font-size="9.8" textLength="34.77" lengthAdjust="spacingAndGlyphs" stroke="#000" stroke-width="0.15">CYS_72</text>
<line x1="365.31" y1="924.30" x2="365.31" y2="928.10" stroke="#111" stroke-width="1.1"/>
<text transform="translate(370.06,936.30) rotate(-45)" text-anchor="end" font-size="9.8" textLength="35.34" lengthAdjust="spacingAndGlyphs" stroke="#000" stroke-width="0.15">PHE_73</text>
<line x1="390.74" y1="924.30" x2="390.74" y2="928.10" stroke="#111" stroke-width="1.1"/>
<text transform="translate(395.49,936.30) rotate(-45)" text-anchor="end" font-size="9.8" textLength="36.21" lengthAdjust="spacingAndGlyphs" stroke="#000" stroke-width="0.15">GLN_74</text>
<line x1="416.17" y1="924.30" x2="416.17" y2="928.10" stroke="#111" stroke-width="1.1"/>
<text transform="translate(420.92,936.30) rotate(-45)" text-anchor="end" font-size="9.8" textLength="32.36" lengthAdjust="spacingAndGlyphs" stroke="#000" stroke-width="0.15">LYS_85</text>
<line x1="441.60" y1="924.30" x2="441.60" y2="928.10" stroke="#111" stroke-width="1.1"/>
<text transform="translate(446.35,936.30) rotate(-45)" text-anchor="end" font-size="9.8" textLength="42.43" lengthAdjust="spacingAndGlyphs" stroke="#000" stroke-width="0.15">MET_160</text>
<line x1="467.03" y1="924.30" x2="467.03" y2="928.10" stroke="#111" stroke-width="1.1"/>
<text transform="translate(471.78,936.30) rotate(-45)" text-anchor="end" font-size="9.8" textLength="38.45" lengthAdjust="spacingAndGlyphs" stroke="#000" stroke-width="0.15">HIS_163</text>
<line x1="492.46" y1="924.30" x2="492.46" y2="928.10" stroke="#111" stroke-width="1.1"/>
<text transform="translate(497.21,936.30) rotate(-45)" text-anchor="end" font-size="9.8" textLength="40.70" lengthAdjust="spacingAndGlyphs" stroke="#000" stroke-width="0.15">LEU_164</text>
<line x1="517.89" y1="924.30" x2="517.89" y2="928.10" stroke="#111" stroke-width="1.1"/>
<text transform="translate(522.64,936.30) rotate(-45)" text-anchor="end" font-size="9.8" textLength="42.89" lengthAdjust="spacingAndGlyphs" stroke="#000" stroke-width="0.15">ARG_167</text>
<line x1="543.32" y1="924.30" x2="543.32" y2="928.10" stroke="#111" stroke-width="1.1"/>
<text transform="translate(548.07,936.30) rotate(-45)" text-anchor="end" font-size="9.8" textLength="41.08" lengthAdjust="spacingAndGlyphs" stroke="#000" stroke-width="0.15">SER_168</text>
<line x1="568.75" y1="924.30" x2="568.75" y2="928.10" stroke="#111" stroke-width="1.1"/>
<text transform="translate(573.50,936.30) rotate(-45)" text-anchor="end" font-size="9.8" textLength="41.57" lengthAdjust="spacingAndGlyphs" stroke="#000" stroke-width="0.15">GLU_171</text>
<line x1="594.18" y1="924.30" x2="594.18" y2="928.10" stroke="#111" stroke-width="1.1"/>
<text transform="translate(598.93,936.30) rotate(-45)" text-anchor="end" font-size="9.8" textLength="42.20" lengthAdjust="spacingAndGlyphs" stroke="#000" stroke-width="0.15">GLN_174</text>
<line x1="619.61" y1="924.30" x2="619.61" y2="928.10" stroke="#111" stroke-width="1.1"/>
<text transform="translate(624.36,936.30) rotate(-45)" text-anchor="end" font-size="9.8" textLength="41.08" lengthAdjust="spacingAndGlyphs" stroke="#000" stroke-width="0.15">SER_175</text>
<line x1="645.04" y1="924.30" x2="645.04" y2="928.10" stroke="#111" stroke-width="1.1"/>
<text transform="translate(649.79,936.30) rotate(-45)" text-anchor="end" font-size="9.8" textLength="42.89" lengthAdjust="spacingAndGlyphs" stroke="#000" stroke-width="0.15">ARG_178</text>
<text transform="translate(12.5,813.45) rotate(-90)" text-anchor="middle" font-size="12.6" textLength="114.3" lengthAdjust="spacingAndGlyphs">Interactions Fraction</text>
<rect x="106.00" y="991.20" width="35.00" height="10.0" rx="2.2" fill="#4cc662" stroke="#7a5c1c" stroke-width="2"/>
<text x="149.60" y="1000.40" font-size="13.2">H-bonds</text>
<rect x="211.90" y="991.20" width="35.00" height="10.0" rx="2.2" fill="#b9a0d4" stroke="#7a5c1c" stroke-width="2"/>
<text x="255.90" y="1000.40" font-size="13.2">Hydrophobic</text>
<rect x="344.70" y="991.20" width="35.00" height="10.0" rx="2.2" fill="#fc0068" stroke="#7a5c1c" stroke-width="2"/>
<text x="388.70" y="1000.40" font-size="13.2">Lonic</text>
<rect x="430.30" y="991.20" width="35.00" height="10.0" rx="2.2" fill="#0256a6" stroke="#7a5c1c" stroke-width="2"/>
<text x="473.90" y="1000.40" font-size="13.2">Water bridges</text>
<text x="370.30" y="1032.10" font-size="23.6" font-weight="bold">c</text>
</svg>
</body></html>
